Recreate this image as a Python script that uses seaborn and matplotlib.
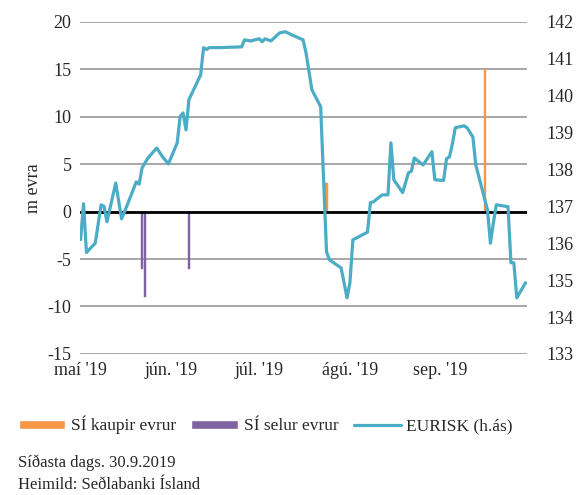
import matplotlib
matplotlib.use("Agg")
import matplotlib.pyplot as plt
from matplotlib.patches import Patch
from matplotlib.lines import Line2D
import seaborn as sns
import pandas as pd

# EURISK gengi (hægri ás)
eurisk_dates = [
    "2019-05-01", "2019-05-02", "2019-05-03", "2019-05-06", "2019-05-08", "2019-05-09",
    "2019-05-10", "2019-05-13", "2019-05-15", "2019-05-17", "2019-05-20", "2019-05-21",
    "2019-05-22", "2019-05-24", "2019-05-27", "2019-05-29", "2019-05-31", "2019-06-03",
    "2019-06-04", "2019-06-05", "2019-06-06", "2019-06-07", "2019-06-11", "2019-06-12",
    "2019-06-13", "2019-06-14", "2019-06-18", "2019-06-21", "2019-06-25", "2019-06-26",
    "2019-06-28", "2019-07-01", "2019-07-02", "2019-07-03", "2019-07-05", "2019-07-08",
    "2019-07-10", "2019-07-12", "2019-07-16", "2019-07-17", "2019-07-19", "2019-07-22",
    "2019-07-24", "2019-07-25", "2019-07-29", "2019-07-31", "2019-08-01", "2019-08-02",
    "2019-08-07", "2019-08-08", "2019-08-09", "2019-08-12", "2019-08-14", "2019-08-15",
    "2019-08-16", "2019-08-19", "2019-08-21", "2019-08-22", "2019-08-23", "2019-08-26",
    "2019-08-29", "2019-08-30", "2019-09-02", "2019-09-03", "2019-09-04", "2019-09-05",
    "2019-09-06", "2019-09-09", "2019-09-10", "2019-09-12", "2019-09-13", "2019-09-17",
    "2019-09-18", "2019-09-19", "2019-09-20", "2019-09-24", "2019-09-25", "2019-09-26",
    "2019-09-27", "2019-09-30",
]
eurisk_values = [
    136.10, 137.07, 135.75, 136.00, 137.04, 137.00,
    136.58, 137.63, 136.66, 137.05, 137.66, 137.60,
    138.04, 138.31, 138.58, 138.34, 138.15, 138.72,
    139.43, 139.53, 139.07, 139.89, 140.56, 141.30,
    141.25, 141.30, 141.30, 141.31, 141.32, 141.51,
    141.48, 141.54, 141.46, 141.54, 141.48, 141.70,
    141.73, 141.65, 141.51, 141.16, 140.16, 139.70,
    135.77, 135.55, 135.33, 134.52, 134.93, 136.09,
    136.30, 137.10, 137.12, 137.31, 137.31, 138.72,
    137.72, 137.37, 137.91, 137.95, 138.31, 138.12,
    138.48, 137.72, 137.70, 138.29, 138.34, 138.69,
    139.13, 139.18, 139.13, 138.88, 138.12, 136.90,
    136.00, 136.55, 137.04, 136.99, 135.47, 135.47,
    134.52, 134.93,
]

# Inngrip SÍ (m evra, vinstri ás)
buy_dates = ["2019-07-24", "2019-09-16"]
buy_values = [3, 15]
sell_dates = ["2019-05-22", "2019-05-23", "2019-06-07"]
sell_values = [-6, -9, -6]

month_ticks = ["2019-05-01", "2019-06-01", "2019-07-01", "2019-08-01", "2019-09-01"]
month_labels = ["maí '19", "jún. '19", "júl. '19", "ágú. '19", "sep. '19"]

c_buy = "#F79646"
c_sell = "#8064A2"
c_line = "#4BACC6"

sns.set_style("white")
plt.rcParams["font.family"] = ["Liberation Serif", "DejaVu Serif"]
plt.rcParams["axes.unicode_minus"] = False
fs = 13

df = pd.DataFrame({"date": pd.to_datetime(eurisk_dates), "eurisk": eurisk_values})

fig = plt.figure(figsize=(5.83, 4.95), dpi=100)
ax = fig.add_axes([0.137, 0.285, 0.767, 0.671])

ax.bar(pd.to_datetime(buy_dates), buy_values, width=0.7, color=c_buy,
       edgecolor=c_buy, linewidth=0.3, zorder=2)
ax.bar(pd.to_datetime(sell_dates), sell_values, width=0.7, color=c_sell,
       edgecolor=c_sell, linewidth=0.3, zorder=2)
ax.set_ylim(-15, 20)
ax.set_yticks(range(-15, 21, 5))
ax.yaxis.grid(True, color="#A0A0A0", linewidth=1.3, zorder=0)
ax.set_axisbelow(True)
ax.axhline(0, color="black", linewidth=2, zorder=3)
ax.set_ylabel("m evra", fontsize=fs, labelpad=4)
ax.tick_params(axis="both", length=0, labelsize=fs, pad=6)

ax.set_xlim(pd.Timestamp("2019-04-30 18:00"), pd.Timestamp("2019-09-30 12:00"))
ax.set_xticks(pd.to_datetime(month_ticks))
ax.set_xticklabels(month_labels)

ax2 = ax.twinx()
sns.lineplot(data=df, x="date", y="eurisk", ax=ax2, color=c_line, linewidth=2.3)
ax2.set_ylim(133, 142)
ax2.set_yticks(range(133, 143))
ax2.set_ylabel("")
ax2.set_xlabel("")
ax2.tick_params(axis="y", length=0, labelsize=fs, pad=14)
ax.set_xlabel("")

for a in (ax, ax2):
    for s in a.spines.values():
        s.set_visible(False)

handles = [
    Patch(facecolor=c_buy, label="SÍ kaupir evrur"),
    Patch(facecolor=c_sell, label="SÍ selur evrur"),
    Line2D([0], [0], color=c_line, linewidth=2.3, label="EURISK (h.ás)"),
]
fig.legend(handles=handles, loc="center left", bbox_to_anchor=(0.02, 0.141), ncol=3,
           frameon=False, fontsize=12.5, handlelength=2.7, handleheight=0.45,
           handletextpad=0.3, columnspacing=0.9, borderaxespad=0)

fig.text(0.031, 0.066, "Síðasta dags. 30.9.2019", fontsize=fs - 1, va="center")
fig.text(0.031, 0.020, "Heimild: Seðlabanki Ísland", fontsize=fs - 1, va="center")

fig.savefig("out.png", dpi=100)
